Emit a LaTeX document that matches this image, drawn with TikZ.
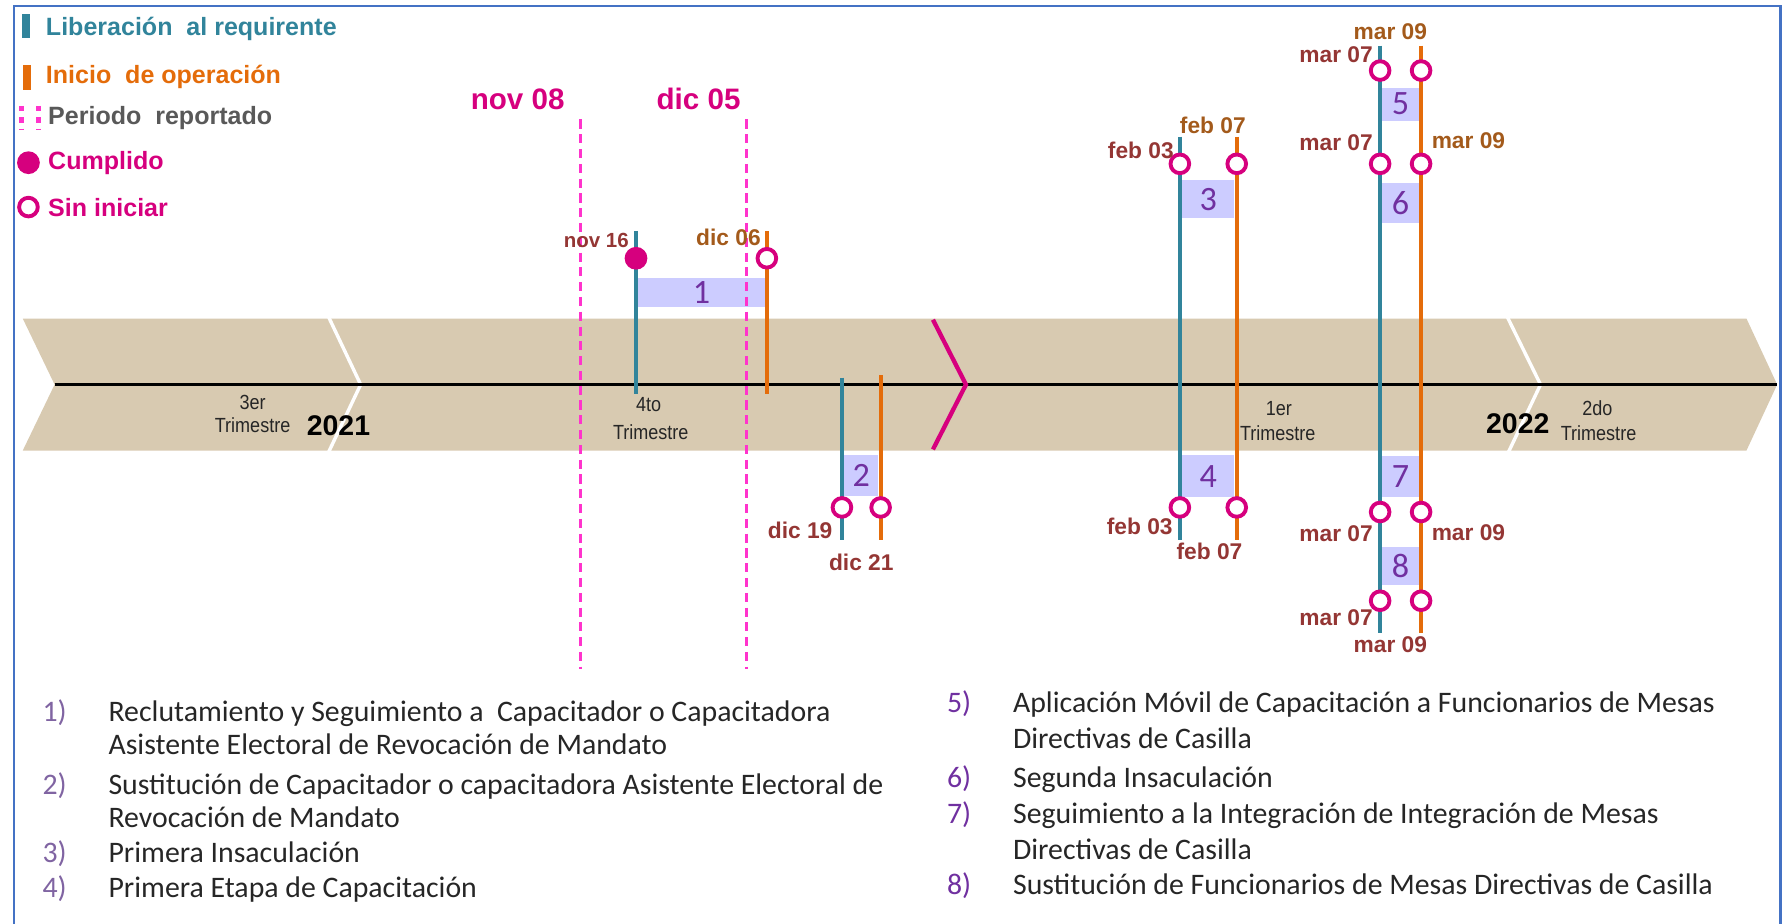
\documentclass[tikz,border=0pt]{standalone}
\usepackage{fontspec}
\setmainfont{Liberation Sans}
\newfontfamily\calib{Carlito}
\newfontfamily\narrowf[FakeStretch=0.88]{Liberation Sans}
\definecolor{teal1}{HTML}{31849B}
\definecolor{orng}{HTML}{E46C0A}
\definecolor{mag}{HTML}{D6007E}
\definecolor{pinkd}{HTML}{FF33CC}
\definecolor{lav}{HTML}{CCCCFF}
\definecolor{purp}{HTML}{7030A0}
\definecolor{purpl}{HTML}{8064A2}
\definecolor{beige}{HTML}{D8CAB1}
\definecolor{redbr}{HTML}{943634}
\definecolor{orbr}{HTML}{A35A1B}
\definecolor{frameblue}{HTML}{4472C4}
\definecolor{txtdark}{HTML}{262626}
\definecolor{grayt}{HTML}{595959}
\begin{document}
\begin{tikzpicture}[x=0.5pt,y=-0.5pt,
  tealline/.style={teal1,line width=1.75pt},
  orgline/.style={orng,line width=1.75pt},
  opencirc/.style={circle,draw=mag,fill=white,line width=1.7pt,minimum size=8.2pt,inner sep=0pt},
  fullcirc/.style={circle,fill=mag,minimum size=10pt,inner sep=0pt},
  numbox/.style={fill=lav,inner sep=0pt,font=\calib\fontsize{15}{15}\selectfont,text=purp},
  datered/.style={font=\bfseries\fontsize{10}{10}\selectfont,text=redbr,inner sep=0pt},
  dateor/.style={font=\bfseries\fontsize{10}{10}\selectfont,text=orbr,inner sep=0pt},
  periodo/.style={font=\bfseries\fontsize{13}{13}\selectfont,text=mag,inner sep=0pt},
  trim/.style={font=\narrowf\fontsize{9}{9}\selectfont,text=txtdark,inner sep=0pt},
  year/.style={font=\bfseries\fontsize{12.5}{12.5}\selectfont,text=black,inner sep=0pt},
  legtxt/.style={font=\bfseries\fontsize{11}{11}\selectfont,inner sep=0pt,anchor=west},
  dashln/.style={pinkd,line width=1.2pt,dash pattern=on 4pt off 2.5pt},
  listnum/.style={font=\calib\fontsize{13.1}{13.1}\selectfont,inner sep=0pt,anchor=base west},
  listtxt/.style={font=\calib\fontsize{13.1}{13.1}\selectfont,text=txtdark,inner sep=0pt,anchor=base west}
]
\useasboundingbox (0,0) rectangle (1568,812);
% frame
\draw[frameblue,line width=1pt] (12,812) -- (12,5) -- (1565,5) -- (1565,812);

% legend
\fill[teal1] (19,12) rectangle (26,33);
\node[legtxt,text=teal1] (lg1) at (40,25) {Liberación\ \ al requirente};
\fill[orng] (20,57) rectangle (27,79);
\node[legtxt,text=orng] (lg2) at (40,68) {Inicio\ \ de operación};
\draw[pinkd,line width=2pt,dash pattern=on 2.5pt off 2.5pt] (19,93) -- (19,114);
\draw[pinkd,line width=2pt,dash pattern=on 2.5pt off 2.5pt] (34,93) -- (34,114);
\node[legtxt,text=grayt] (lg3) at (42,104) {Periodo\ \ reportado};
\node[fullcirc] (lgc) at (25,143) {};
\node[legtxt,text=mag] (lg4) at (42,143) {Cumplido};
\node[opencirc] (lgo) at (25,182) {};
\node[legtxt,text=mag] (lg5) at (42,182) {Sin iniciar};

% band
\fill[beige] (20,280) -- (1535,280) -- (1562,338) -- (1535,396) -- (20,396) -- (48,338) -- cycle;
\draw[white,line width=1.5pt] (289,279) -- (317,338) -- (289,397);
\draw[white,line width=1.5pt] (1325,279) -- (1354,338) -- (1326,397);
\draw[black,line width=1.3pt] (48,338) -- (1562,338);
\draw[mag,line width=1.9pt] (820,281) -- (849,338) -- (820,395);

% quarter labels
\node[trim] (q3a) at (222,354) {3er};
\node[trim] (q3b) at (222,374) {Trimestre};
\node[year] (y21) at (297.5,374) {2021};
\node[trim] (q4a) at (570,356) {4to};
\node[trim] (q4b) at (572,380) {Trimestre};
\node[trim] (q1a) at (1124,359) {1er};
\node[trim] (q1b) at (1123,381) {Trimestre};
\node[year] (y22) at (1334,372) {2022};
\node[trim] (q2a) at (1404,359) {2do};
\node[trim] (q2b) at (1405,381) {Trimestre};

% boxes
\node[numbox,minimum width=55.5pt,minimum height=13pt] (b1) at (616.5,257) {1};
\node[numbox,minimum width=15pt,minimum height=18pt] (b2) at (757,418) {2};
\node[numbox,minimum width=23pt,minimum height=17pt] (b3) at (1062,175) {3};
\node[numbox,minimum width=23pt,minimum height=18.5pt] (b4) at (1062,418.5) {4};
\node[numbox,minimum width=16pt,minimum height=14.5pt] (b5) at (1231,91.5) {5};
\node[numbox,minimum width=16pt,minimum height=17.5pt] (b6) at (1231,178.5) {6};
\node[numbox,minimum width=16pt,minimum height=18pt] (b7) at (1231,419) {7};
\node[numbox,minimum width=16pt,minimum height=16.5pt] (b8) at (1231,497.5) {8};

% period dashed lines
\node[periodo] (p1) at (455,87) {nov 08};
\node[periodo] (p2) at (614,87) {dic 05};
\coordinate (d1t) at (510,105);
\coordinate (d1b) at (510,588);
\coordinate (d2t) at (656,105);
\coordinate (d2b) at (656,588);
\draw[dashln] (d1t) -- (d1b);
\draw[dashln] (d2t) -- (d2b);

% activity 1
\draw[tealline] (559,203) -- (559,346);
\draw[orgline] (674,203) -- (674,346);
\node[fullcirc] (c1a) at (559,227) {};
\node[opencirc] (c1b) at (674,227) {};
\node[datered,anchor=east,font=\bfseries\fontsize{9}{9}\selectfont] (l1a) at (553,211) {nov 16};
\node[dateor,anchor=east] (l1b) at (669,209) {dic 06};

% activity 2
\draw[tealline] (740,332) -- (740,475);
\draw[orgline] (774,330) -- (774,475);
\node[opencirc] (c2a) at (740,446) {};
\node[opencirc] (c2b) at (774,446) {};
\node[datered,anchor=east] (l2a) at (732,466) {dic 19};
\node[datered] (l2b) at (757,494) {dic 21};

% activity 3 and 4
\draw[tealline] (1037,120) -- (1037,475);
\draw[orgline] (1087,120) -- (1087,475);
\node[opencirc] (c3a) at (1037,144) {};
\node[opencirc] (c3b) at (1087,144) {};
\node[opencirc] (c4a) at (1037,446) {};
\node[opencirc] (c4b) at (1087,446) {};
\node[datered,anchor=east] (l3a) at (1032,132) {feb 03};
\node[dateor] (l3b) at (1066,110) {feb 07};
\node[datered,anchor=east] (l4a) at (1031,463) {feb 03};
\node[datered] (l4b) at (1063,485) {feb 07};

% activity 5 to 8
\draw[tealline] (1213,40) -- (1213,556);
\draw[orgline] (1249,40) -- (1249,556);
\foreach \yy/\nm in {62/a,144/b,450/c,528/d}{
  \node[opencirc] (c5\nm) at (1213,\yy) {};
  \node[opencirc] (c6\nm) at (1249,\yy) {};
}
\node[dateor] (l5t) at (1222,28) {mar 09};
\node[datered,anchor=east] (l5a) at (1207,48) {mar 07};
\node[datered,anchor=east] (l6a) at (1207,125) {mar 07};
\node[dateor,anchor=west] (l6b) at (1258,124) {mar 09};
\node[datered,anchor=east] (l7a) at (1207,469) {mar 07};
\node[datered,anchor=west] (l7b) at (1258,468) {mar 09};
\node[datered,anchor=east] (l8a) at (1207,543) {mar 07};
\node[datered] (l8b) at (1222,567) {mar 09};

% list left
\node[listnum,text=purpl] (n1) at (37,634) {1)};
\node[listtxt] (t1a) at (95,634) {Reclutamiento y Seguimiento a\ \ Capacitador o Capacitadora};
\node[listtxt] (t1b) at (95,663) {Asistente Electoral de Revocación de Mandato};
\node[listnum,text=purpl] (n2) at (37,698) {2)};
\node[listtxt] (t2a) at (95,698) {Sustitución de Capacitador o capacitadora Asistente Electoral de};
\node[listtxt] (t2b) at (95,727) {Revocación de Mandato};
\node[listnum,text=purpl] (n3) at (37,758) {3)};
\node[listtxt] (t3) at (95,758) {Primera Insaculación};
\node[listnum,text=purpl] (n4) at (37,789) {4)};
\node[listtxt] (t4) at (95,789) {Primera Etapa de Capacitación};

% list right
\node[listnum,text=purp] (n5) at (832,626) {5)};
\node[listtxt] (t5a) at (890,626) {Aplicación Móvil de Capacitación a Funcionarios de Mesas};
\node[listtxt] (t5b) at (890,658) {Directivas de Casilla};
\node[listnum,text=purp] (n6) at (832,692) {6)};
\node[listtxt] (t6) at (890,692) {Segunda Insaculación};
\node[listnum,text=purp] (n7) at (832,724) {7)};
\node[listtxt] (t7a) at (890,724) {Seguimiento a la Integración de Integración de Mesas};
\node[listtxt] (t7b) at (890,755) {Directivas de Casilla};
\node[listnum,text=purp] (n8) at (832,786) {8)};
\node[listtxt] (t8) at (890,786) {Sustitución de Funcionarios de Mesas Directivas de Casilla};
\end{tikzpicture}
\end{document}
